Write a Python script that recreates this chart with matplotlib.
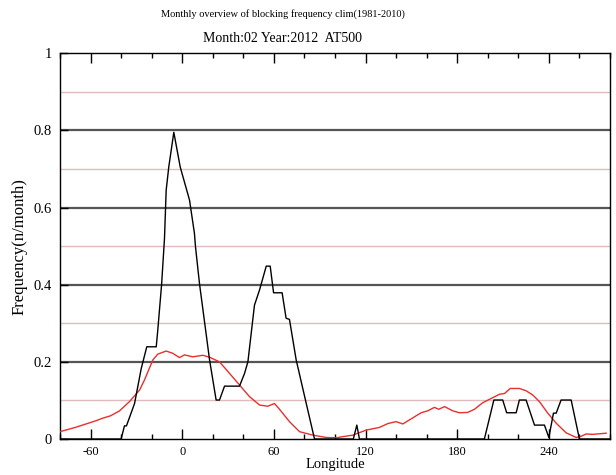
import matplotlib
matplotlib.use("Agg")
import matplotlib.pyplot as plt
from matplotlib.ticker import MultipleLocator

plt.rcParams['font.family'] = ['Liberation Serif', 'DejaVu Serif']

# monthly blocking frequency, Feb 2012
lon_month = [-80, -40, -37.8, -36.5, -31.2, -26.8, -23.2, -17, -16, -13.5, -11.6,
             -10.5, -8.8, -5.5, -1.3, 4.8, 8, 8.7, 11.3, 17.9, 22.2, 24.4, 27.7,
             37.5, 40.8, 43, 47.3, 50.6, 55, 57.6, 59.8, 65.4, 68, 70.2, 74.6,
             81.2, 86.6, 112, 114.3, 116, 197.8, 204, 209.8, 212.4, 218.6, 220.7,
             225.1, 230.6, 237.1, 240, 243, 244.8, 248, 254.6, 260, 280]
freq_month = [0, 0, 0.034, 0.034, 0.092, 0.183, 0.239, 0.239, 0.282, 0.4, 0.52,
              0.645, 0.705, 0.795, 0.705, 0.619, 0.533, 0.498, 0.403, 0.205, 0.101,
              0.101, 0.137, 0.137, 0.17, 0.2, 0.347, 0.386, 0.448, 0.448, 0.379,
              0.379, 0.313, 0.31, 0.205, 0.092, 0, 0, 0.036, 0, 0, 0.101, 0.101,
              0.068, 0.068, 0.101, 0.101, 0.036, 0.036, 0.004, 0.067, 0.067,
              0.101, 0.101, 0, 0]

# climatology 1981-2010
lon_clim = [-80, -70, -60.6, -56, -52, -47, -41, -34.5, -27.9, -24.7, -19.2, -16,
            -10.5, -6.1, -1.8, 1.5, 6.9, 13.5, 17.9, 24.4, 31, 37.5, 44, 50.6,
            56, 60.4, 63.7, 70.2, 76.8, 85.5, 94.2, 100.8, 105, 111.7, 120.4,
            129.1, 134.6, 140, 144.4, 151, 156.4, 160.7, 165.1, 167.9, 171.7,
            177.1, 181.5, 186.9, 191.3, 196.7, 202.2, 207.7, 211, 214.7, 220.7,
            225.1, 229.5, 233.8, 239.3, 244.8, 251.3, 257.9, 261.1, 264.4, 268.7,
            277.5]
freq_clim = [0.019, 0.03, 0.042, 0.048, 0.054, 0.06, 0.073, 0.097, 0.127, 0.153,
             0.205, 0.22, 0.228, 0.222, 0.211, 0.218, 0.213, 0.217, 0.212, 0.2,
             0.17, 0.14, 0.11, 0.088, 0.085, 0.092, 0.077, 0.045, 0.019, 0.01,
             0.004, 0.003, 0.006, 0.01, 0.023, 0.03, 0.04, 0.045, 0.039, 0.055,
             0.068, 0.073, 0.082, 0.077, 0.084, 0.073, 0.068, 0.069, 0.077, 0.094,
             0.105, 0.116, 0.118, 0.131, 0.131, 0.125, 0.114, 0.097, 0.067, 0.041,
             0.016, 0.004, 0.007, 0.013, 0.012, 0.015]

fig = plt.figure(figsize=(6.16, 4.75), dpi=100)
ax = fig.add_axes([0.0974, 0.0758, 0.8928, 0.8122])

# horizontal reference lines
for v in [0.1, 0.3, 0.5, 0.7, 0.9]:
    ax.axhline(v, color='#e0bcbc', lw=1.0, zorder=1)
for v in [0.2, 0.4, 0.6, 0.8]:
    ax.axhline(v, color='#555555', lw=1.6, zorder=1)

ax.plot(lon_clim, freq_clim, color='#e8302c', lw=1.0, zorder=3)
ax.plot(lon_month, freq_month, color='black', lw=1.0, zorder=4)

ax.set_xlim(-80, 280)
ax.set_ylim(0, 1)
ax.xaxis.set_minor_locator(MultipleLocator(20))
ax.set_xticks([-60, 0, 60, 120, 180, 240])
ax.set_xticklabels(['-60', '0', '60', '120', '180', '240'])
ax.set_yticks([0, 0.2, 0.4, 0.6, 0.8, 1])
ax.set_yticklabels(['0', '0.2', '0.4', '0.6', '0.8', '1'])
ax.tick_params(axis='x', which='major', direction='in', length=7, width=1,
               top=True, labelsize=9, pad=5)
ax.tick_params(axis='x', which='minor', direction='in', length=3.5, width=1,
               top=True)
ax.tick_params(axis='y', which='major', direction='in', length=6, width=1,
               labelsize=10.5, pad=6)
for s in ax.spines.values():
    s.set_linewidth(1.0)

ax.set_xlabel('Longitude', fontsize=10.5, labelpad=0)
ax.set_ylabel('Frequency(n/month)', fontsize=12, labelpad=4)

fig.text(0.4593, 0.970, 'Monthly overview of blocking frequency clim(1981-2010)',
         ha='center', va='center', fontsize=7.5)
fig.text(0.4593, 0.920, 'Month:02 Year:2012  AT500',
         ha='center', va='center', fontsize=10)

fig.savefig('out.png', dpi=100)
